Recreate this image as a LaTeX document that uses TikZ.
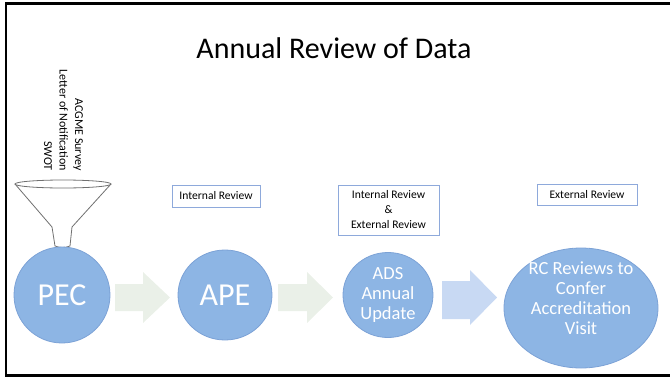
\documentclass[tikz,border=0pt]{standalone}
\usepackage{fontspec}
\setmainfont{Carlito}
\usetikzlibrary{shapes.geometric}

\definecolor{stageblue}{RGB}{141,181,228}
\definecolor{stageedge}{RGB}{124,162,214}
\definecolor{arrowgreen}{RGB}{234,240,232}
\definecolor{arrowblue}{RGB}{200,217,243}
\definecolor{boxedge}{RGB}{142,169,219}
\definecolor{funnelgray}{RGB}{112,112,112}

\begin{document}
\begin{tikzpicture}[x=1pt, y=-1pt,
  stage/.style={ellipse, draw=stageedge, fill=stageblue, line width=0.8pt, inner sep=0pt, text=white, align=center},
  reviewbox/.style={draw=boxedge, line width=0.8pt, fill=white, inner sep=0pt, align=center, font=\fontsize{11.6}{15}\selectfont}]
  \useasboundingbox (0,0) rectangle (670,378);
  \clip (0,0) rectangle (670,378);

  % Frame and title
  \draw[line width=2.2pt] (6,3.5) rectangle (700,375.5);
  \node[font=\fontsize{30}{34}\selectfont] (title) at (334,48) {Annual Review of Data};

  % Funnel with its inputs
  \node[rotate=-90, anchor=east, align=right, inner sep=0pt, font=\fontsize{12}{15.5}\selectfont] (inputs) at (63.5,171) {ACGME Survey\\Letter of Notification\\SWOT};
  \filldraw[draw=funnelgray, fill=white, line width=0.8pt] (15,184) -- (52,227) -- (55,246) .. controls (60,248) and (65,248) .. (70,246) -- (72,227) -- (111,184);
  \draw[funnelgray, line width=0.8pt] (63,184) ellipse [x radius=48, y radius=4];

  % Define stages
  \node[stage, minimum width=96pt, minimum height=96pt, font=\fontsize{32}{36}\selectfont] (pec) at (62,295) {PEC};
  \node[stage, minimum width=94pt, minimum height=90pt, font=\fontsize{32}{36}\selectfont] (ape) at (225,295) {APE};
  \node[stage, minimum width=90pt, minimum height=85pt, font=\fontsize{18.5}{20}\selectfont] (ads) at (388,295) {ADS\\Annual\\Update};
  \node[stage, minimum width=154pt, minimum height=120pt] (rc) at (581,308) {};
  \node[text=white, align=center, inner sep=0pt, font=\fontsize{18.5}{20}\selectfont] (rctext) at (581,298) {RC Reviews to\\Confer\\Accreditation\\Visit};

  % Draw arrows between stages
  \fill[arrowgreen] (115,284) -- (143,284) -- (143,272) -- (170,297.5) -- (143,323) -- (143,311) -- (115,311) -- cycle;
  \fill[arrowgreen] (278,284) -- (307,284) -- (307,272) -- (333,297.5) -- (307,323) -- (307,311) -- (278,311) -- cycle;
  \fill[arrowblue] (442,281) -- (470,281) -- (470,270) -- (497,297.5) -- (470,325) -- (470,319) -- (442,319) -- cycle;

  % Add review labels
  \node[reviewbox, minimum width=88pt, minimum height=22pt] (revA) at (216,196) {Internal Review};
  \node[reviewbox, minimum width=101pt, minimum height=50pt] (revB) at (388.5,210) {Internal Review\\\&\\External Review};
  \node[reviewbox, minimum width=100pt, minimum height=21pt] (revC) at (587,195) {External Review};
\end{tikzpicture}
\end{document}
